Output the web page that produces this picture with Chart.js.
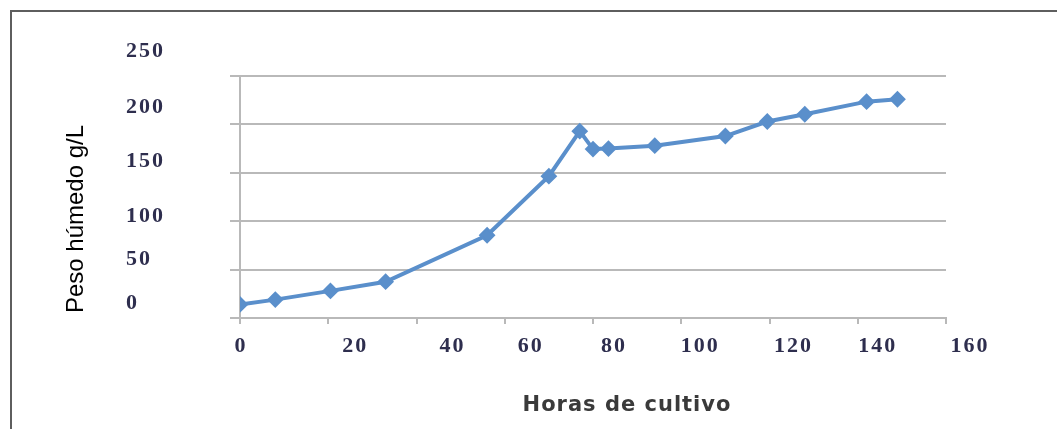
<!DOCTYPE html>
<html>
<head>
<meta charset="utf-8">
<script src="https://cdn.jsdelivr.net/npm/chart.js@4.4.1/dist/chart.umd.min.js"></script>
<style>
  html, body { margin: 0; padding: 0; background: #ffffff; }
  #wrap { position: relative; width: 1057px; height: 429px; overflow: hidden; }
  #frame { position: absolute; left: 10px; top: 10px; right: -4px; bottom: -4px;
           border-top: 2px solid #5e5e5e; border-left: 2px solid #5e5e5e; pointer-events: none; }
  canvas { position: absolute; left: 0; top: 0; }
</style>
</head>
<body>
<div id="wrap">
  <canvas id="c" width="1057" height="429"></canvas>
  <div id="frame"></div>
</div>
<script>
// ---- data ----
const hours = [0, 8, 20.5, 33, 56, 70, 77, 80, 83.5, 94, 110, 119.5, 128, 142, 149];
const wetWeight = [14, 19, 28, 37.5, 85.5, 146.5, 193, 174.5, 175, 178, 188, 203, 210.5, 223.5, 226];
const xTickValues = [0, 20, 40, 60, 80, 100, 120, 140, 160];
const xTickLabels = ['0', '20', '40', '60', '80', '100', '120', '140', '160'];
const yTickValues = [0, 50, 100, 150, 200, 250];
const yTickLabels = ['0', '50', '100', '150', '200', '250'];
const xTitle = 'Horas de cultivo';
const yTitle = 'Peso húmedo g/L';

// ---- style (label offsets as they appear in the reference) ----
const xLabelShift = [1, 27, 36, 26, 21, 19, 24, 20, 24];
const yLabelShift = [-15, -10, -5, -11, -17, -25];
const tickFont = 'bold 22px "Liberation Serif", "DejaVu Serif", serif';
const tickColor = '#2e2e4e';
const gridColor = '#b9b9b9';
const lineColor = '#5a8fcb';

const labelPlugin = {
  id: 'offsetLabels',
  afterDraw(chart) {
    const ctx = chart.ctx;
    const xs = chart.scales.x, ys = chart.scales.y;
    const area = chart.chartArea;
    const hasLS = 'letterSpacing' in ctx;
    ctx.save();
    ctx.font = tickFont;
    ctx.fillStyle = tickColor;
    if (hasLS) ctx.letterSpacing = '2px';
    // y labels (left aligned column)
    ctx.textAlign = 'left';
    ctx.textBaseline = 'middle';
    yTickValues.forEach((v, i) => {
      ctx.fillText(yTickLabels[i], ys.left - 104, ys.getPixelForValue(v) + yLabelShift[i]);
    });
    // x labels
    ctx.textAlign = 'center';
    xTickValues.forEach((v, i) => {
      ctx.fillText(xTickLabels[i], xs.getPixelForValue(v) + xLabelShift[i], area.bottom + 28);
    });
    // x title
    ctx.font = 'bold 21px "DejaVu Sans", Verdana, sans-serif';
    ctx.fillStyle = '#3a3a3a';
    if (hasLS) ctx.letterSpacing = '1px';
    ctx.fillText(xTitle, (area.left + area.right) / 2 + 34, area.bottom + 88);
    if (hasLS) ctx.letterSpacing = '0px';
    // y title
    ctx.save();
    ctx.translate(76, (area.top + area.bottom) / 2 + 22);
    ctx.rotate(-Math.PI / 2);
    ctx.font = '24px "Liberation Sans", Arial, sans-serif';
    ctx.fillStyle = '#000000';
    ctx.fillText(yTitle, 0, 0);
    ctx.restore();
    ctx.restore();
  }
};

new Chart(document.getElementById('c'), {
  type: 'line',
  data: {
    datasets: [{
      data: hours.map((h, i) => ({ x: h, y: wetWeight[i] })),
      borderColor: lineColor,
      backgroundColor: lineColor,
      borderWidth: 4,
      pointStyle: 'rectRot',
      pointRadius: 7,
      pointBorderWidth: 2,
      pointBackgroundColor: lineColor,
      pointBorderColor: lineColor,
      tension: 0,
      fill: false
    }]
  },
  options: {
    responsive: false,
    animation: false,
    devicePixelRatio: 1,
    layout: { padding: { left: 230, right: 111, top: 76, bottom: 105 } },
    plugins: { legend: { display: false }, tooltip: { enabled: false }, title: { display: false } },
    scales: {
      x: {
        type: 'linear',
        min: 0, max: 160,
        ticks: { display: false, stepSize: 20 },
        grid: { drawOnChartArea: false, drawTicks: true, tickLength: 6, color: gridColor, lineWidth: 2 },
        border: { display: true, color: gridColor, width: 2 }
      },
      y: {
        type: 'linear',
        min: 0, max: 250,
        ticks: { display: false, stepSize: 50 },
        grid: { drawOnChartArea: true, drawTicks: true, tickLength: 10, color: gridColor, lineWidth: 2 },
        border: { display: true, color: gridColor, width: 2 }
      }
    }
  },
  plugins: [labelPlugin]
});
</script>
</body>
</html>
